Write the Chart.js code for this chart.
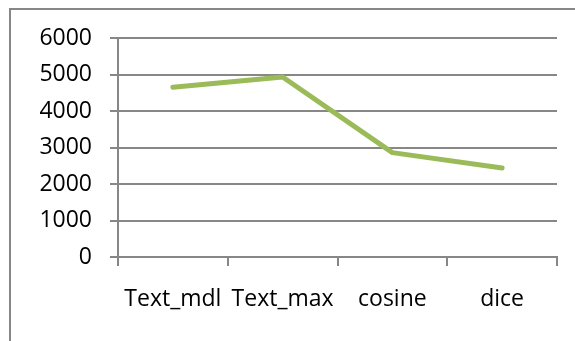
<!DOCTYPE html>
<html>
<head>
<meta charset="utf-8">
<script src="https://cdn.jsdelivr.net/npm/chart.js@4.4.0/dist/chart.umd.min.js"></script>
<style>
  html, body { margin: 0; padding: 0; background: #fff; overflow: hidden; }
  #frame {
    position: absolute; left: 9px; top: 8px; width: 700px; height: 500px;
    border: 2px solid #878787;
  }
  #wrap { position: absolute; left: 0; top: 0; width: 575px; height: 341px; }
</style>
</head>
<body>
<div id="frame"></div>
<div id="wrap"><canvas id="myChart"></canvas></div>
<script>
const ctx = document.getElementById("myChart");

// values
var labels = ["Text_mdl", "Text_max", "cosine", "dice"];
var values = [4650, 4930, 2860, 2440];
var yTicks = [0, 1000, 2000, 3000, 4000, 5000, 6000];

var axisGray = "#878787";
var fontSpec = { family: "'Open Sans'", size: 23 };

var config = {
  type: "line",
  data: {
    labels: labels,
    datasets: [{
      label: "series",
      data: values,
      borderColor: "#9bbb59",
      backgroundColor: "#9bbb59",
      borderWidth: 5,
      borderCapStyle: "round",
      borderJoinStyle: "round",
      pointRadius: 0,
      tension: 0
    }]
  },
  options: {
    responsive: true,
    maintainAspectRatio: false,
    animation: false,
    events: [],
    layout: { padding: { top: 38, right: 18, left: 0, bottom: 0 } },
    plugins: {
      legend: { display: false },
      tooltip: { enabled: false }
    },
    scales: {
      x: {
        offset: true,
        grid: {
          offset: true,
          drawOnChartArea: false,
          color: axisGray,
          lineWidth: 2,
          tickLength: 9
        },
        border: { color: axisGray, width: 2 },
        ticks: { color: "#000", font: fontSpec, padding: 20, maxRotation: 0 },
        afterFit: function (scale) { scale.height = 341 - 257; }
      },
      y: {
        min: yTicks[0],
        max: yTicks[yTicks.length - 1],
        afterBuildTicks: function (scale) {
          scale.ticks = yTicks.map(v => ({ value: v }));
        },
        grid: { color: axisGray, lineWidth: 2, tickLength: 8 },
        border: { color: axisGray, width: 2 },
        ticks: {
          color: "#000",
          font: fontSpec,
          padding: 18,
          callback: function (value) { return String(value); }
        },
        afterFit: function (scale) { scale.width = 118; }
      }
    }
  }
};

var chart = new Chart(ctx, config);
</script>
</body>
</html>
